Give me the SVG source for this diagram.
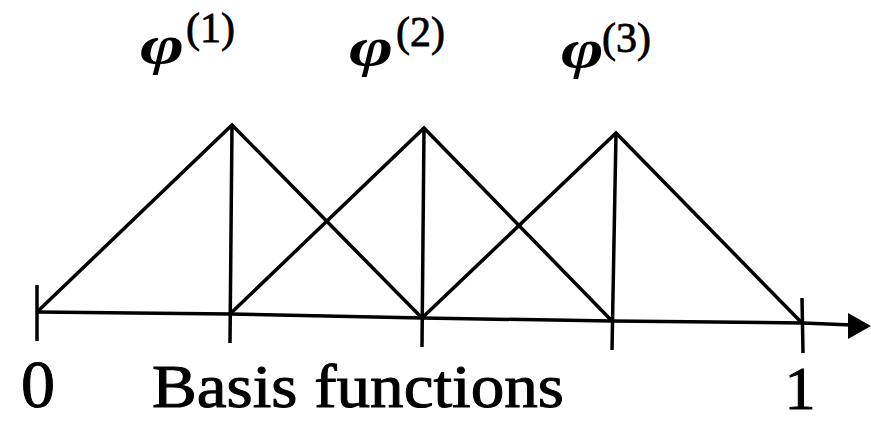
<svg xmlns="http://www.w3.org/2000/svg" width="871" height="423" viewBox="0 0 871 423">
<style>
.ln{stroke:#000;stroke-width:3.5;fill:none;stroke-linejoin:miter;stroke-linecap:butt}
.lbl{font-family:"Liberation Serif","Times New Roman",serif;fill:#000;stroke:#000;stroke-width:1}
.phi{font-family:"Liberation Serif","Times New Roman",serif;font-style:italic;font-weight:bold;font-size:54px;fill:#000}
.sup{font-family:"Liberation Serif","Times New Roman",serif;font-size:42px;fill:#000;stroke:#000;stroke-width:0.8}
</style>
<rect width="871" height="423" fill="#fff"/>
<g id="connectors">
<path class="ln" d="M37,312 L232,125 L422,318"/>
<path class="ln" d="M230,314 L424,128 L612,321"/>
<path class="ln" d="M422,318 L616,133 L802,323"/>
<path class="ln" d="M232,125 L230,343"/>
<path class="ln" d="M424,128 L422,347"/>
<path class="ln" d="M616,133 L612,350"/>
<path class="ln" d="M37,285 L37,341"/>
<path class="ln" d="M802,298 L803,353"/>
<path class="ln" stroke-width="4.5" d="M37,312 L230,314 L422,318 L612,321 L803,323 L852,325"/>
<path d="M848,313 L871,326 L848,339 z" fill="#000"/>
</g>
<g id="phi1"><text class="phi" transform="translate(140,63) scale(1.4,1)">φ</text><text class="sup" x="186" y="42">(1)</text></g>
<g id="phi2"><text class="phi" transform="translate(349,65) scale(1.4,1)">φ</text><text class="sup" x="396" y="46">(2)</text></g>
<g id="phi3"><text class="phi" transform="translate(561,67) scale(1.35,1)">φ</text><text class="sup" x="602" y="52">(3)</text></g>
<g id="label0"><text class="lbl" x="38" y="407" font-size="68" text-anchor="middle">0</text></g>
<g id="title"><text class="lbl" x="152" y="407" font-size="61" textLength="412" lengthAdjust="spacingAndGlyphs">Basis functions</text></g>
<g id="label1"><text class="lbl" x="800" y="409" font-size="62" text-anchor="middle">1</text></g>
</svg>
